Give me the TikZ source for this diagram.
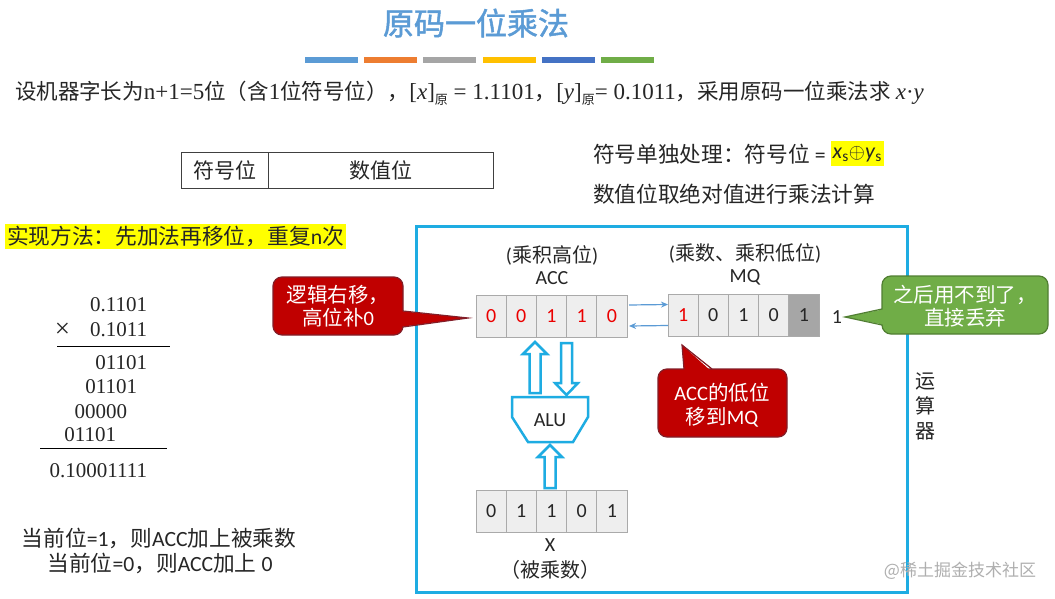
\documentclass[tikz,border=0pt]{standalone}
\usepackage{fontspec}
\setmainfont{Liberation Serif}
\newfontfamily\cjk{Noto Sans CJK SC}
\newfontfamily\cjkb[FakeBold=1.5]{Noto Sans CJK SC}
\newfontfamily\tnr{Liberation Serif}
\newfontfamily\calf{Carlito}
\usetikzlibrary{arrows.meta}
\definecolor{tblue}{RGB}{91,155,213}
\definecolor{borange}{RGB}{237,125,49}
\definecolor{bgray}{RGB}{165,165,165}
\definecolor{byellow}{RGB}{255,192,0}
\definecolor{bdblue}{RGB}{68,114,196}
\definecolor{bgreen}{RGB}{112,173,71}
\definecolor{framec}{RGB}{30,172,226}
\definecolor{cellfill}{RGB}{238,238,238}
\definecolor{celldraw}{RGB}{170,170,170}
\definecolor{darkcell}{RGB}{166,166,166}
\definecolor{cred}{RGB}{192,0,0}
\definecolor{credb}{RGB}{130,30,40}
\definecolor{cgreen}{RGB}{112,173,71}
\definecolor{cgreenb}{RGB}{80,126,50}
\definecolor{hl}{RGB}{255,255,0}
\definecolor{arrowblue}{RGB}{91,155,213}
\definecolor{digred}{RGB}{235,0,0}
\definecolor{txtc}{RGB}{38,38,38}
\definecolor{wmark}{RGB}{175,175,175}
\newcommand\tn[1]{{\tnr\fontsize{23}{24}\selectfont #1}}
\tikzset{
  base/.style={inner sep=0pt, outer sep=0pt, text=txtc},
  title/.style={base, text=tblue, font=\cjkb\fontsize{31}{31}\selectfont},
  line2/.style={base, font=\cjk\fontsize{21.5}{24}\selectfont},
  txt/.style={base, font=\cjk\fontsize{21.7}{25}\selectfont},
  lbl/.style={base, font=\cjk\fontsize{20}{25}\selectfont},
  num/.style={base, font=\tnr\fontsize{21}{24}\selectfont},
  hlbox/.style={base, fill=hl, inner xsep=2pt, minimum height=25pt},
  tbl/.style={base, draw=black!75, line width=1pt, font=\cjk\fontsize{21}{25}\selectfont},
  cell/.style={base, draw=celldraw, fill=cellfill, line width=0.8pt, minimum width=30.2pt, minimum height=42pt, font=\calf\fontsize{20}{20}\selectfont},
  redd/.style={text=digred},
  darkc/.style={fill=darkcell},
  rulel/.style={line width=1pt, black},
  framel/.style={draw=framec, line width=3pt},
  hollow/.style={draw=framec, fill=white, line width=2.5pt, line join=miter},
  thinarr/.style={draw=arrowblue, line width=1.2pt, -{Stealth[length=7pt,width=6pt]}},
  callred/.style={fill=cred, draw=credb, line width=1.2pt, rounded corners=9pt},
  callgreen/.style={fill=cgreen, draw=cgreenb, line width=1.2pt, rounded corners=9pt},
  calltxt/.style={base, text=white, align=center, font=\cjk\fontsize{20.5}{23.5}\selectfont},
}
\begin{document}
\begin{tikzpicture}[x=1pt,y=-1pt]
\fill[white] (0,0) rectangle (1055,599);
\useasboundingbox (0,0) rectangle (1055,599);

% title and colour bars
\node[title] (title) at (476,23) {原码一位乘法};
\foreach \xa/\c in {305/tblue,364/borange,423/bgray,483/byellow,542/bdblue,601/bgreen}
  \fill[\c] (\xa,57) rectangle ++(53,6);

% statement
\node[line2, anchor=west] (given) at (15,93) {设机器字长为\tn{n+1=5}位（含\tn{1}位符号位），\tn{[\textit{x}]}\raisebox{-5pt}{\fontsize{13}{13}\selectfont 原}\tn{\ = 1.1101}，\tn{[\textit{y}]}\raisebox{-5pt}{\fontsize{13}{13}\selectfont 原}\tn{= 0.1011}，采用原码一位乘法求 \tn{\textit{x}·\textit{y}}};

% format table
\node[tbl, minimum width=87pt, minimum height=35pt, anchor=north west] (sign) at (181,153) {符号位};
\node[tbl, minimum width=225pt, minimum height=35pt, anchor=north west] (mag) at (268,153) {数值位};

% right notes
\node[txt, anchor=west] (signtxt) at (593,154) {符号单独处理：符号位 {\calf =}};
\node[hlbox, anchor=west, font=\calf\fontsize{22}{25}\selectfont] (xsys) at ([xshift=5pt]signtxt.east) {\textit{x}\textsubscript{s}$\oplus$\textit{y}\textsubscript{s}};
\node[txt, anchor=west] (magtxt) at (593,194) {数值位取绝对值进行乘法计算};

% method
\node[hlbox, txt, fill=hl, inner xsep=2pt, minimum height=25pt, anchor=west] (method) at (5,236) {实现方法：先加法再移位，重复{\calf n}次};

% hand multiplication
\node[num, anchor=east] (n1) at (147,305) {0.1101};
\node[num, anchor=east] (n2) at (147,330) {0.1011};
\node[base, font=\tnr\fontsize{27}{27}\selectfont] (times) at (62.5,330) {×};
\coordinate (r1a) at (57,346); \coordinate (r1b) at (170,346);
\draw[rulel] (r1a) -- (r1b);
\node[num, anchor=east] (p1) at (147,363) {01101};
\node[num, anchor=east] (p2) at (137,387) {01101};
\node[num, anchor=east] (p3) at (127,412) {00000};
\node[num, anchor=east] (p4) at (116,435) {01101};
\coordinate (r2a) at (40,448); \coordinate (r2b) at (167,448);
\draw[rulel] (r2a) -- (r2b);
\node[num, anchor=east] (res) at (147,471) {0.10001111};

\node[txt] (rule1) at (159,538) {当前位{\calf =1}，则{\calf ACC}加上被乘数};
\node[txt] (rule2) at (160,563) {当前位{\calf =0}，则{\calf ACC}加上 {\calf 0}};

% arithmetic unit frame
\draw[framel] (416,226) rectangle (907,592);

\node[lbl] (acchi) at (552,255) {{\calf (}乘积高位{\calf )}};
\node[lbl] (acclbl) at (552,278) {\calf ACC};
\node[lbl] (mqlo) at (745,253) {{\calf (}乘数、乘积低位{\calf )}};
\node[lbl] (mqlbl) at (745,277) {\calf MQ};

% ACC
\node[cell, redd] (acc1) at (491.1,316) {0};
\node[cell, redd] (acc2) at (521.3,316) {0};
\node[cell, redd] (acc3) at (551.5,316) {1};
\node[cell, redd] (acc4) at (581.7,316) {1};
\node[cell, redd] (acc5) at (611.9,316) {0};
% MQ
\node[cell, redd] (mq1) at (683.1,315.5) {1};
\node[cell] (mq2) at (713.3,315.5) {0};
\node[cell] (mq3) at (743.5,315.5) {1};
\node[cell] (mq4) at (773.7,315.5) {0};
\node[cell, darkc] (mq5) at (803.9,315.5) {1};
\node[base, font=\calf\fontsize{20}{20}\selectfont] (drop) at (837,317) {1};
% X
\node[cell] (x1) at (491.1,511) {0};
\node[cell] (x2) at (521.3,511) {1};
\node[cell] (x3) at (551.5,511) {1};
\node[cell] (x4) at (581.7,511) {0};
\node[cell] (x5) at (611.9,511) {1};
\node[lbl] (xlbl) at (550,545) {\calf X};
\node[lbl] (xname) at (550,570) {（被乘数）};

% ACC <-> MQ
\draw[thinarr] ([xshift=2pt,yshift=11pt]acc5.east) -- ([yshift=11pt]mq1.west);
\draw[thinarr] ([yshift=-10pt]mq1.west) -- ([xshift=2pt,yshift=-10pt]acc5.east);

% ALU
\draw[hollow] (512,397) -- (588,397) -- (588,417) -- (573,442) -- (528,442) -- (512,417) -- cycle;
\node[base, font=\calf\fontsize{20}{20}\selectfont] (alu) at (550,420) {ALU};

% hollow arrows
\draw[hollow] (529.5,393) -- (529.5,354) -- (523,354) -- (535,342) -- (547,354) -- (540.5,354) -- (540.5,393) -- cycle;
\draw[hollow] (561,343) -- (561,383) -- (555,383) -- (566.5,395) -- (578,383) -- (572,383) -- (572,343) -- cycle;
\draw[hollow] (544.5,488) -- (544.5,457) -- (538,457) -- (550,445) -- (562,457) -- (555.5,457) -- (555.5,488) -- cycle;

\node[lbl, align=center] (unitlbl) at (925,406) {运\\算\\器};

% callout: logical right shift
\draw[callred] (273,277) rectangle (403,335);
\fill[cred] (400,311) -- (468,318) -- (400,327) -- cycle;
\draw[credb, line width=1.2pt, line join=miter] (403,311) -- (468,318) -- (403,327);
\node[calltxt] (shiftnote) at (338,306) {逻辑右移，\\高位补{\calf 0}};

% callout: ACC low bit to MQ
\draw[callred] (658,369) rectangle (787,437);
\fill[cred] (684,372) -- (682,345) -- (712,372) -- cycle;
\draw[credb, line width=1.2pt, line join=miter] (684,369) -- (682,345) -- (712,369);
\node[calltxt] (lownote) at (722,405) {{\calf ACC}的低位\\移到{\calf MQ}};

% callout: discarded bit
\draw[callgreen] (882,276) rectangle (1048,334);
\fill[cgreen] (885,309) -- (845,317) -- (885,325) -- cycle;
\draw[cgreenb, line width=1.2pt, line join=miter] (882,309) -- (845,317) -- (882,325);
\node[calltxt] (dropnote) at (965,306) {之后用不到了，\\直接丢弃};

% watermark
\node[base, text=wmark, font=\cjk\fontsize{17}{17}\selectfont] (wm) at (960,571) {@稀土掘金技术社区};
\end{tikzpicture}
\end{document}
